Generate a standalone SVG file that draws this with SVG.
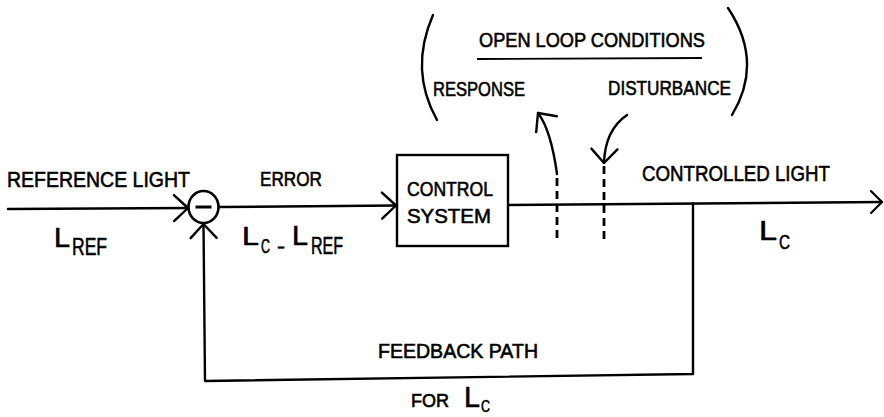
<svg xmlns="http://www.w3.org/2000/svg" width="884" height="417" viewBox="0 0 884 417">
<style>
  .ln { stroke: #000; stroke-width: 2.4; fill: none; stroke-linecap: round; stroke-linejoin: round; }
  .dash { stroke: #000; stroke-width: 2.8; fill: none; stroke-dasharray: 8 5; }
  .t { font-family: "Liberation Sans", Arial, sans-serif; fill: #000; stroke: #000; stroke-width: 0.6; }
</style>
<defs>
  <marker id="arr" viewBox="0 0 14 26" refX="14" refY="13" markerWidth="14" markerHeight="26" markerUnits="userSpaceOnUse" orient="auto" overflow="visible">
    <path d="M0,0 L14,13 L0,26" fill="none" stroke="#000" stroke-width="2.4" stroke-linecap="round" stroke-linejoin="round"/>
  </marker>
  <marker id="arrS" viewBox="0 0 11 22" refX="11" refY="11" markerWidth="11" markerHeight="22" markerUnits="userSpaceOnUse" orient="auto" overflow="visible">
    <path d="M0,0 L11,11 L0,22" fill="none" stroke="#000" stroke-width="2.2" stroke-linecap="round" stroke-linejoin="round"/>
  </marker>
</defs>
<rect width="884" height="417" fill="#fff"/>

<g id="connectors">
  <path class="ln" d="M8,209 L188,208" marker-end="url(#arr)"/>
  <path class="ln" d="M219,207 L396,205.5" marker-end="url(#arr)"/>
  <path class="ln" d="M508,205 L882,202" marker-end="url(#arrS)"/>
  <path class="ln" d="M693,203.5 L693,374 L205,381 L203.5,224" marker-end="url(#arr)"/>
  <path class="ln" d="M557,174 Q551,130 538,113" marker-end="url(#arr)"/>
  <path class="ln" d="M627,115 Q605,130 604,163" marker-end="url(#arr)"/>
  <path class="dash" d="M557,178 L557,240"/>
  <path class="dash" d="M604,166 L604,244"/>
</g>

<g id="sum">
  <ellipse cx="203.5" cy="207" rx="15" ry="16" fill="#fff" stroke="#000" stroke-width="2.6"/>
  <path d="M195.5,207 L211.5,207" stroke="#000" stroke-width="3"/>
</g>

<g id="control-system">
  <rect x="397" y="155" width="111" height="91" fill="#fff" stroke="#000" stroke-width="2.4"/>
  <text class="t" x="407" y="196" font-size="20" textLength="86" lengthAdjust="spacingAndGlyphs">CONTROL</text>
  <text class="t" x="407" y="223" font-size="21" textLength="84" lengthAdjust="spacingAndGlyphs">SYSTEM</text>
</g>

<g id="open-loop-conditions">
  <path class="ln" d="M433,15 Q409,70 437,120"/>
  <path class="ln" d="M728,8 Q764,62 732,115"/>
  <text class="t" x="479" y="47" font-size="20" textLength="226" lengthAdjust="spacingAndGlyphs">OPEN LOOP CONDITIONS</text>
  <path d="M477,59 L702,58" stroke="#000" stroke-width="1.8"/>
  <text class="t" x="433" y="96" font-size="21" textLength="92" lengthAdjust="spacingAndGlyphs">RESPONSE</text>
  <text class="t" x="608" y="95" font-size="21" textLength="123" lengthAdjust="spacingAndGlyphs">DISTURBANCE</text>
</g>

<g id="reference-label">
  <text class="t" x="7" y="187" font-size="22" textLength="183" lengthAdjust="spacingAndGlyphs">REFERENCE LIGHT</text>
  <text class="t" x="54" y="247" font-size="27" textLength="16" lengthAdjust="spacingAndGlyphs">L</text>
  <text class="t" x="72" y="255" font-size="24" textLength="35" lengthAdjust="spacingAndGlyphs">REF</text>
</g>

<g id="error-label">
  <text class="t" x="260" y="186" font-size="21" textLength="62" lengthAdjust="spacingAndGlyphs">ERROR</text>
  <text class="t" x="242" y="245" font-size="26" textLength="17" lengthAdjust="spacingAndGlyphs">L</text>
  <text class="t" x="261" y="253" font-size="21" textLength="9" lengthAdjust="spacingAndGlyphs">C</text>
  <text class="t" x="277" y="253" font-size="18" textLength="8" lengthAdjust="spacingAndGlyphs">-</text>
  <text class="t" x="292" y="245" font-size="28" textLength="16" lengthAdjust="spacingAndGlyphs">L</text>
  <text class="t" x="311" y="254" font-size="24" textLength="32" lengthAdjust="spacingAndGlyphs">REF</text>
</g>

<g id="controlled-label">
  <text class="t" x="642" y="181" font-size="22" textLength="188" lengthAdjust="spacingAndGlyphs">CONTROLLED LIGHT</text>
  <text class="t" x="759" y="240" font-size="28" textLength="18" lengthAdjust="spacingAndGlyphs">L</text>
  <text class="t" x="779" y="249" font-size="20" textLength="11" lengthAdjust="spacingAndGlyphs">C</text>
</g>

<g id="feedback-label">
  <text class="t" x="378" y="358" font-size="20" textLength="160" lengthAdjust="spacingAndGlyphs">FEEDBACK PATH</text>
  <text class="t" x="411" y="407" font-size="18" textLength="38" lengthAdjust="spacingAndGlyphs">FOR</text>
  <text class="t" x="464" y="407" font-size="30" textLength="16" lengthAdjust="spacingAndGlyphs">L</text>
  <text class="t" x="481" y="412" font-size="16" textLength="9" lengthAdjust="spacingAndGlyphs">C</text>
</g>
</svg>
